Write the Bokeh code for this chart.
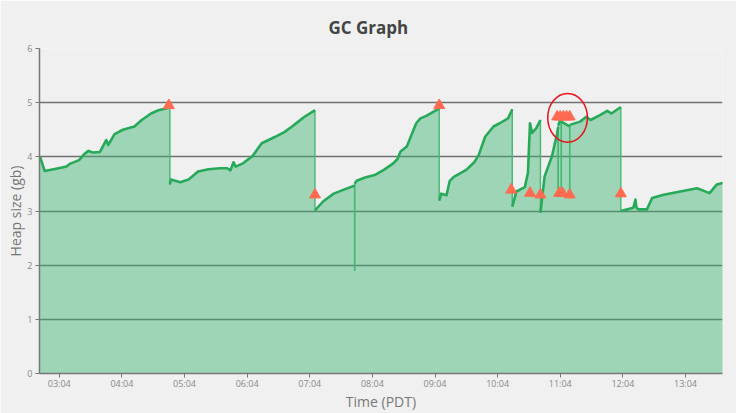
from bokeh.plotting import figure
from bokeh.models import Range1d, FixedTicker
from bokeh.embed import file_html
from bokeh.resources import INLINE

# ---- data ----
times = ["02:45","02:46","02:50","03:01","03:11","03:14","03:23","03:28","03:32","03:36",
         "03:43","03:49","03:51","03:57","04:05","04:16","04:23","04:32","04:39","04:48",
         "04:50","04:50","04:51","05:00","05:08","05:17","05:27","05:38","05:45","05:48",
         "05:51","05:53","06:00","06:09","06:18","06:31","06:40","06:47","06:53","06:59",
         "07:08","07:09","07:09","07:17","07:27","07:36","07:46","07:47","07:47","07:47",
         "07:49","07:57","08:07","08:15","08:24","08:28","08:31","08:37","08:42","08:46",
         "08:50","08:56","09:07","09:08","09:08","09:10","09:15","09:18","09:22","09:34",
         "09:42","09:46","09:52","10:00","10:06","10:14","10:18","10:18","10:22","10:30",
         "10:33","10:35","10:37","10:41","10:45","10:45","10:49","10:56","11:01","11:02",
         "11:02","11:02","11:04","11:05","11:05","11:05","11:12","11:13","11:13","11:13",
         "11:23","11:29","11:33","11:42","11:49","11:53","12:02","12:02","12:14","12:16",
         "12:17","12:19","12:27","12:32","12:43","12:59","13:15","13:27","13:34","13:40"]
heap_gb = [4.00,3.98,3.74,3.78,3.82,3.87,3.94,4.05,4.11,4.08,
           4.09,4.31,4.22,4.42,4.50,4.56,4.68,4.80,4.86,4.90,
           4.92,3.49,3.58,3.53,3.58,3.73,3.77,3.79,3.79,3.75,
           3.90,3.82,3.88,4.01,4.25,4.37,4.46,4.56,4.65,4.74,
           4.85,4.86,3.01,3.18,3.32,3.39,3.46,3.47,1.90,3.50,
           3.56,3.62,3.67,3.76,3.88,3.96,4.10,4.19,4.43,4.62,
           4.71,4.76,4.88,4.90,3.19,3.32,3.29,3.55,3.63,3.76,
           3.91,4.04,4.37,4.56,4.62,4.71,4.88,3.08,3.36,3.44,
           3.70,4.62,4.44,4.53,4.68,2.97,3.64,4.01,4.43,4.55,
           3.33,4.58,4.68,4.66,3.33,4.65,4.57,4.58,3.30,4.59,
           4.65,4.74,4.68,4.77,4.85,4.80,4.92,3.00,3.06,3.21,
           3.06,3.03,3.03,3.24,3.30,3.36,3.42,3.33,3.49,3.52]

gc_times = ["04:49","07:09","09:08","10:17","10:35","10:45","11:03","11:06","11:13","12:02",
            "11:01","11:04","11:07","11:10","11:13"]
gc_heap = [4.95,3.30,4.95,3.39,3.33,3.30,3.33,3.33,3.30,3.32,
           4.74,4.74,4.74,4.74,4.74]

tick_labels = ["03:04","04:04","05:04","06:04","07:04","08:04","09:04","10:04","11:04","12:04","13:04"]
y_ticks = [0, 1, 2, 3, 4, 5, 6]

highlight_time = "11:11"
highlight_heap = 4.72
highlight_width_min = 38
highlight_height_gb = 0.90


def to_min(t):
    h, m = t.split(":")
    return int(h) * 60 + int(m)


x = [to_min(t) for t in times]
gx = [to_min(t) for t in gc_times]
tick_pos = [to_min(t) for t in tick_labels]

# split the series into continuous runs and instantaneous (vertical) jumps
runs_x, runs_y = [[x[0]]], [[heap_gb[0]]]
jx0, jy0, jx1, jy1 = [], [], [], []
for i in range(1, len(x)):
    if x[i] == x[i - 1]:
        jx0.append(x[i - 1]); jy0.append(heap_gb[i - 1])
        jx1.append(x[i]); jy1.append(heap_gb[i])
        runs_x.append([x[i]]); runs_y.append([heap_gb[i]])
    else:
        runs_x[-1].append(x[i]); runs_y[-1].append(heap_gb[i])

p = figure(width=736, height=413, output_backend="svg", toolbar_location=None,
           x_range=Range1d(165.1, 819.4), y_range=Range1d(0, 6),
           title="GC Graph",
           background_fill_color="#f0f0f0", border_fill_color="#f0f0f0",
           outline_line_color=None,
           min_border_left=39, min_border_right=14, min_border_top=48, min_border_bottom=30)

p.title.align = "left"
p.title.offset = 289
p.title.standoff = 20
p.title.text_font = "Open Sans"
p.title.text_font_style = "bold"
p.title.text_font_size = "17px"
p.title.text_color = "#444444"

p.varea(x=x, y1=0, y2=heap_gb, fill_color="#3cb371", fill_alpha=0.45)
p.segment(x0=jx0, y0=jy0, x1=jx1, y1=jy1, line_color="#45b873", line_width=1.4)
p.multi_line(xs=runs_x, ys=runs_y, line_color="#27a95a", line_width=2.6, line_join="round")
p.scatter(gx, gc_heap, marker="triangle", size=11, fill_color="#ff6a50", line_color="#ff6a50")
p.ellipse(x=[to_min(highlight_time)], y=[highlight_heap], width=highlight_width_min,
          height=highlight_height_gb, fill_color=None, line_color="#e8141c", line_width=1.5)

p.xgrid.grid_line_color = None
p.ygrid.grid_line_color = "#707070"
p.ygrid.grid_line_width = 1.5
p.ygrid.ticker = FixedTicker(ticks=y_ticks)

p.xaxis.ticker = FixedTicker(ticks=tick_pos)
p.xaxis.major_label_overrides = {tp: lab for tp, lab in zip(tick_pos, tick_labels)}
p.yaxis.ticker = FixedTicker(ticks=y_ticks)

for ax in (p.xaxis, p.yaxis):
    ax.axis_line_color = "#777777"
    ax.axis_line_width = 1.5
    ax.major_tick_line_color = "#777777"
    ax.major_tick_in = 0
    ax.major_tick_out = 4
    ax.minor_tick_line_color = None
    ax.major_label_text_font = "Open Sans"
    ax.major_label_text_font_size = "9px"
    ax.major_label_text_color = "#888888"
    ax.axis_label_text_font = "Open Sans"
    ax.axis_label_text_font_style = "normal"
    ax.axis_label_text_font_size = "14px"
    ax.axis_label_text_color = "#777777"

p.xaxis.axis_label = "Time (PDT)"
p.yaxis.axis_label = "Heap size (gb)"
p.xaxis.major_label_standoff = -1
p.yaxis.major_label_standoff = 3
p.xaxis.axis_label_standoff = -1
p.yaxis.axis_label_standoff = -1

open("out.html", "w").write(file_html(p, INLINE))
